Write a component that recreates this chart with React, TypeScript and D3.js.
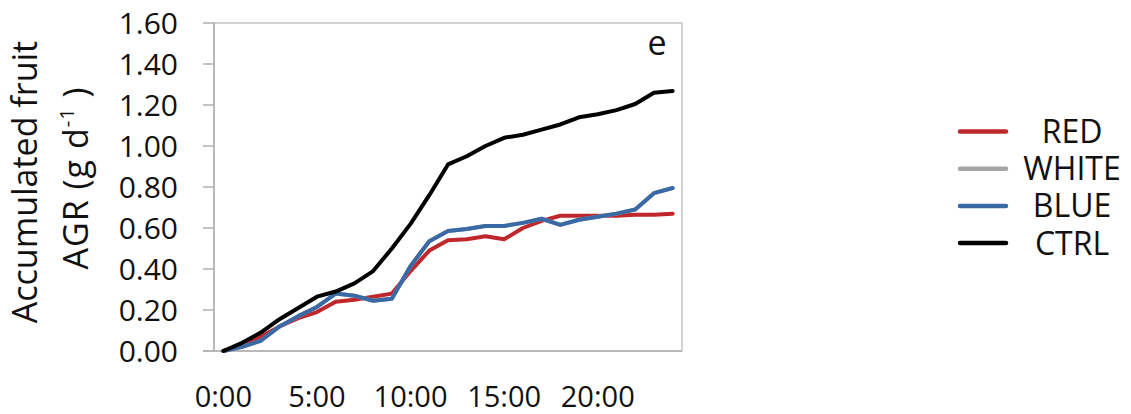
import * as d3 from "d3";
import { useEffect, useRef } from "react";

const hours = d3.range(0, 25);
const xTickLabels = ["0:00", "5:00", "10:00", "15:00", "20:00"];
const yTicks = [0, 0.2, 0.4, 0.6, 0.8, 1.0, 1.2, 1.4, 1.6];

const redValues = [0, 0.03, 0.07, 0.12, 0.16, 0.19, 0.24, 0.25, 0.265, 0.28, 0.39, 0.49, 0.54, 0.545, 0.56, 0.545, 0.6, 0.635, 0.66, 0.66, 0.66, 0.66, 0.665, 0.665, 0.67];
const whiteValues = [0, 0.02, 0.05, 0.12, 0.17, 0.215, 0.28, 0.27, 0.245, 0.255, 0.415, 0.535, 0.585, 0.595, 0.61, 0.61, 0.625, 0.645, 0.615, 0.64, 0.655, 0.67, 0.69, 0.77, 0.795];
const blueValues = [0, 0.02, 0.05, 0.12, 0.17, 0.215, 0.28, 0.27, 0.245, 0.255, 0.415, 0.535, 0.585, 0.595, 0.61, 0.61, 0.625, 0.645, 0.615, 0.64, 0.655, 0.67, 0.69, 0.77, 0.795];
const ctrlValues = [0, 0.04, 0.09, 0.155, 0.21, 0.265, 0.29, 0.33, 0.39, 0.5, 0.62, 0.76, 0.91, 0.95, 1.0, 1.04, 1.055, 1.08, 1.105, 1.14, 1.155, 1.175, 1.205, 1.26, 1.268];

const series = [
  { name: "RED", color: "#c0272d", values: redValues },
  { name: "WHITE", color: "#a5a5a5", values: whiteValues },
  { name: "BLUE", color: "#3a6aa6", values: blueValues },
  { name: "CTRL", color: "#000000", values: ctrlValues },
];

const FONT = "'Open Sans', sans-serif";

export default function App() {
  const ref = useRef<SVGSVGElement>(null);
  const width = 1131;
  const height = 414;

  useEffect(() => {
    const svg = d3.select(ref.current);
    svg.selectAll("*").remove();

    const left = 214;
    const right = 682;
    const top = 23;
    const bottom = 351;

    const x = d3.scalePoint<number>().domain(hours).range([left, right]).padding(0.5);
    const y = d3.scaleLinear().domain([0, 1.6]).range([bottom, top]);

    svg.append("rect").attr("width", width).attr("height", height).attr("fill", "#fff");

    // plot area border
    svg
      .append("rect")
      .attr("x", left)
      .attr("y", top)
      .attr("width", right - left)
      .attr("height", bottom - top)
      .attr("fill", "none")
      .attr("stroke", "#c4c4c4")
      .attr("stroke-width", 1.5);

    // y axis
    const yAxis = svg.append("g");
    yAxis
      .selectAll("line")
      .data(yTicks)
      .join("line")
      .attr("x1", left - 11)
      .attr("x2", left)
      .attr("y1", (d) => y(d))
      .attr("y2", (d) => y(d))
      .attr("stroke", "#b0b0b0")
      .attr("stroke-width", 1.5);
    yAxis
      .append("line")
      .attr("x1", left)
      .attr("x2", left)
      .attr("y1", top)
      .attr("y2", bottom)
      .attr("stroke", "#b0b0b0")
      .attr("stroke-width", 1.5);
    yAxis
      .selectAll("text")
      .data(yTicks)
      .join("text")
      .attr("x", 178)
      .attr("y", (d) => y(d))
      .attr("dy", "0.36em")
      .attr("text-anchor", "end")
      .attr("font-family", FONT)
      .attr("font-size", 30)
      .attr("fill", "#111")
      .text((d) => d.toFixed(2));

    // x axis
    svg
      .append("line")
      .attr("x1", left - 11)
      .attr("x2", right)
      .attr("y1", bottom)
      .attr("y2", bottom)
      .attr("stroke", "#b0b0b0")
      .attr("stroke-width", 1.5);
    svg
      .append("g")
      .selectAll("text")
      .data(xTickLabels)
      .join("text")
      .attr("x", (_, i) => x(i * 5) as number)
      .attr("y", 407)
      .attr("text-anchor", "middle")
      .attr("font-family", FONT)
      .attr("font-size", 29)
      .attr("fill", "#111")
      .text((d) => d);

    // y title
    svg
      .append("text")
      .attr("transform", "translate(37, 182) rotate(-90)")
      .attr("text-anchor", "middle")
      .attr("font-family", FONT)
      .attr("font-size", 34)
      .attr("fill", "#111")
      .text("Accumulated fruit");
    const t2 = svg
      .append("text")
      .attr("transform", "translate(88, 178) rotate(-90)")
      .attr("text-anchor", "middle")
      .attr("font-family", FONT)
      .attr("font-size", 34)
      .attr("letter-spacing", 1)
      .attr("fill", "#111");
    t2.append("tspan").text("AGR (g d");
    t2.append("tspan").attr("font-size", 20).attr("dy", -14).text("-1");
    t2.append("tspan").attr("dy", 14).text(" )");

    // lines
    const line = d3
      .line<number>()
      .x((_, i) => x(hours[i]) as number)
      .y((d) => y(d));
    svg
      .append("g")
      .selectAll("path")
      .data(series)
      .join("path")
      .attr("d", (s) => line(s.values))
      .attr("fill", "none")
      .attr("stroke", (s) => s.color)
      .attr("stroke-width", 4)
      .attr("stroke-linejoin", "round")
      .attr("stroke-linecap", "round");

    // panel letter
    svg
      .append("text")
      .attr("x", 657)
      .attr("y", 55)
      .attr("text-anchor", "middle")
      .attr("font-family", FONT)
      .attr("font-size", 34)
      .attr("fill", "#111")
      .text("e");

    // legend
    const legend = svg
      .append("g")
      .selectAll("g")
      .data(series)
      .join("g")
      .attr("transform", (_, i) => `translate(0, ${131.5 + i * 37.2})`);
    legend
      .append("line")
      .attr("x1", 960)
      .attr("x2", 1006)
      .attr("stroke", (s) => s.color)
      .attr("stroke-width", 4.5)
      .attr("stroke-linecap", "round");
    legend
      .append("text")
      .attr("x", 1072)
      .attr("dy", "0.36em")
      .attr("text-anchor", "middle")
      .attr("font-family", FONT)
      .attr("font-size", 32)
      .attr("fill", "#111")
      .text((s) => s.name);
  }, []);

  return (
    <svg
      ref={ref}
      width={width}
      height={height}
      style={{ position: "absolute", left: 0, top: 0, display: "block" }}
    />
  );
}
